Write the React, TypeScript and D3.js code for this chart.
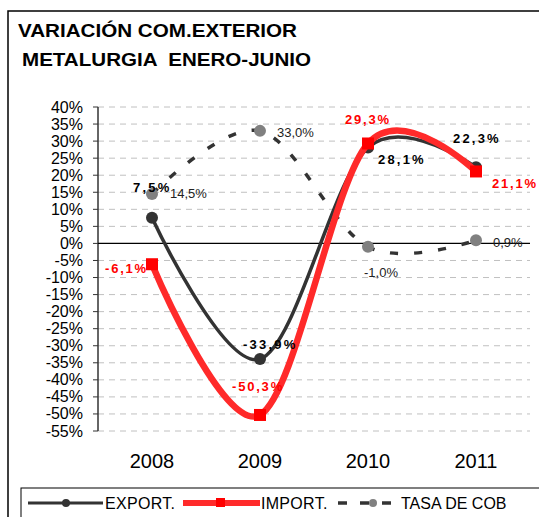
import React from 'react';
import * as d3 from 'd3';

const years = ['2008', '2009', '2010', '2011'];
const exportVals = [7.5, -33.9, 28.1, 22.3];
const importVals = [-6.1, -50.3, 29.3, 21.1];
const tasaVals = [14.5, 33.0, -1.0, 0.9];
const yTicks = [40, 35, 30, 25, 20, 15, 10, 5, 0, -5, -10, -15, -20, -25, -30, -35, -40, -45, -50, -55];

// label offsets relative to the data point (text-anchor start)
const exportLabelOff = [[-19, -26], [-17, -10], [10, 16], [-23, -24]];
const importLabelOff = [[-47, 9], [-28, -24], [-23, -19], [16, 17]];
const tasaLabelOff = [[18, 4], [17, 6], [-4, 30], [17, 7]];

const W = 539;
const H = 517;
const FONT = '"Liberation Sans", Arial, sans-serif';

const fmt = (v: number) => v.toFixed(1).replace('.', ',') + '%';

export default function App() {
  const x = d3.scaleBand<string>().domain(years).range([98, 530]).padding(0);
  const cx = (yr: string) => (x(yr) as number) + x.bandwidth() / 2;
  const y = d3.scaleLinear().domain([-55, 40]).range([431, 107]);

  const mkLine = (vals: number[]) =>
    d3
      .line<number>()
      .x((_, i) => cx(years[i]))
      .y((d) => y(d))
      .curve(d3.curveCardinal.tension(0))(vals) as string;

  return (
    <svg
      width={W}
      height={H}
      style={{ position: 'absolute', left: 0, top: 0, background: '#fff' }}
      fontFamily={FONT}
    >
      <rect x={0} y={0} width={W} height={H} fill="#fff" />
      {/* outer frame */}
      <rect x={8} y={11} width={W + 20} height={H + 20} fill="none" stroke="#000" strokeWidth={1.5} />

      {/* title */}
      <text x={18} y={37} fontSize={19} fontWeight="bold" fill="#000" textLength={279} lengthAdjust="spacingAndGlyphs">
        VARIACIÓN COM.EXTERIOR
      </text>
      <text
        x={22}
        y={66}
        fontSize={19}
        fontWeight="bold"
        fill="#000"
        textLength={289}
        lengthAdjust="spacingAndGlyphs"
        style={{ whiteSpace: 'pre' }}
      >
        {'METALURGIA  ENERO-JUNIO'}
      </text>

      {/* gridlines */}
      {yTicks
        .filter((t) => t !== 0)
        .map((t) => (
          <line key={'g' + t} x1={98} x2={530} y1={y(t)} y2={y(t)} stroke="#c0c0c0" strokeWidth={1} strokeDasharray="6,5" />
        ))}

      {/* y axis */}
      <line x1={98} x2={98} y1={y(40)} y2={y(-55)} stroke="#333" strokeWidth={1.5} />
      {yTicks.map((t) => (
        <g key={'t' + t}>
          <line x1={93} x2={98} y1={y(t)} y2={y(t)} stroke="#333" strokeWidth={1} />
          <text x={83} y={y(t) + 5.5} fontSize={16} textAnchor="end" fill="#000">
            {t + '%'}
          </text>
        </g>
      ))}
      <line x1={98} x2={530} y1={y(0)} y2={y(0)} stroke="#000" strokeWidth={1.2} />

      {/* x labels */}
      {years.map((yr) => (
        <text key={yr} x={cx(yr)} y={468} fontSize={20} textAnchor="middle" fill="#000">
          {yr}
        </text>
      ))}

      {/* TASA DE COB */}
      <path d={mkLine(tasaVals)} fill="none" stroke="#333" strokeWidth={3.5} strokeDasharray="8,16" />
      {tasaVals.map((v, i) => (
        <circle key={'tc' + i} cx={cx(years[i])} cy={y(v)} r={6} fill="#808080" />
      ))}

      {/* EXPORT */}
      <path d={mkLine(exportVals)} fill="none" stroke="#333" strokeWidth={3.5} />
      {exportVals.map((v, i) => (
        <circle key={'ec' + i} cx={cx(years[i])} cy={y(v)} r={6} fill="#333" />
      ))}

      {/* IMPORT */}
      <path d={mkLine(importVals)} fill="none" stroke="#ff2a2a" strokeWidth={6.5} />
      {importVals.map((v, i) => (
        <rect key={'ic' + i} x={cx(years[i]) - 6} y={y(v) - 6} width={12} height={12} fill="#ff0000" />
      ))}

      {/* data labels */}
      {tasaVals.map((v, i) => (
        <text key={'tl' + i} x={cx(years[i]) + tasaLabelOff[i][0]} y={y(v) + tasaLabelOff[i][1]} fontSize={13} fill="#222">
          {fmt(v)}
        </text>
      ))}
      {exportVals.map((v, i) => (
        <text
          key={'el' + i}
          x={cx(years[i]) + exportLabelOff[i][0]}
          y={y(v) + exportLabelOff[i][1]}
          fontSize={13}
          fontWeight="bold"
          letterSpacing={2.2}
          fill="#000"
        >
          {fmt(v)}
        </text>
      ))}
      {importVals.map((v, i) => (
        <text
          key={'il' + i}
          x={cx(years[i]) + importLabelOff[i][0]}
          y={y(v) + importLabelOff[i][1]}
          fontSize={13}
          fontWeight="bold"
          letterSpacing={1.8}
          fill="#ff0000"
        >
          {fmt(v)}
        </text>
      ))}

      {/* legend */}
      <rect x={21} y={488} width={W + 20} height={40} fill="none" stroke="#000" strokeWidth={1} />
      <line x1={28} x2={103} y1={503} y2={503} stroke="#333" strokeWidth={3} />
      <circle cx={66} cy={503} r={4} fill="#333" />
      <text x={105} y={509} fontSize={16} fill="#000" letterSpacing={0.3}>
        EXPORT.
      </text>
      <line x1={183} x2={260} y1={503} y2={503} stroke="#ff2a2a" strokeWidth={6} />
      <rect x={216} y={498} width={9} height={9} fill="#ff0000" />
      <text x={261} y={509} fontSize={16} fill="#000" letterSpacing={0.3}>
        IMPORT.
      </text>
      <line x1={338} x2={400} y1={503} y2={503} stroke="#333" strokeWidth={3.5} strokeDasharray="9,13" />
      <circle cx={373} cy={503} r={4} fill="#808080" />
      <text x={401} y={509} fontSize={16} fill="#000">
        TASA DE COB
      </text>
    </svg>
  );
}
